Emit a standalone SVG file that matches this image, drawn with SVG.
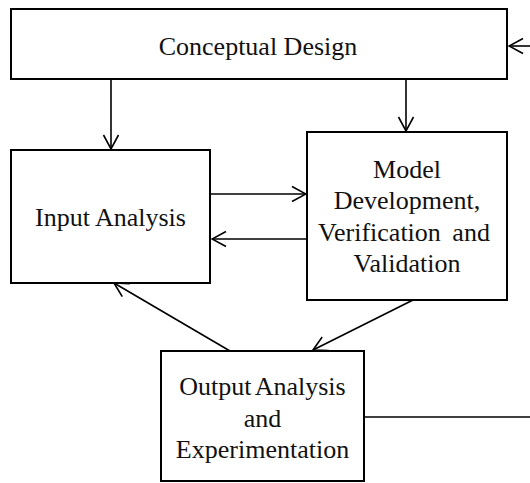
<svg xmlns="http://www.w3.org/2000/svg" width="530" height="483" viewBox="0 0 530 483">
  <style>
    .box { fill: #ffffff; stroke: #000000; stroke-width: 2; }
    .lbl { font-family: "Liberation Serif", "Times New Roman", serif; font-size: 26px; fill: #111111; text-anchor: middle; }
    .edge { fill: none; stroke: #000000; stroke-width: 1.6; }
  </style>
  <defs>
    <marker id="arrow" viewBox="0 0 16 18" refX="15" refY="9" markerWidth="16" markerHeight="18" markerUnits="userSpaceOnUse" orient="auto">
      <path d="M1,1.5 L15,9 L1,16.5" fill="none" stroke="#000000" stroke-width="1.6"/>
    </marker>
  </defs>
  <rect width="530" height="483" fill="#ffffff"/>

  <g id="connectors">
    <line class="edge" x1="111" y1="79" x2="111" y2="149" marker-end="url(#arrow)"/>
    <line class="edge" x1="406" y1="79" x2="406" y2="131" marker-end="url(#arrow)"/>
    <line class="edge" x1="211" y1="194" x2="306" y2="194" marker-end="url(#arrow)"/>
    <line class="edge" x1="307" y1="239" x2="212" y2="239" marker-end="url(#arrow)"/>
    <line class="edge" x1="230" y1="351" x2="114" y2="283" marker-end="url(#arrow)"/>
    <line class="edge" x1="413" y1="300" x2="313" y2="350" marker-end="url(#arrow)"/>
    <line class="edge" x1="364" y1="417" x2="530" y2="417"/>
    <line class="edge" x1="532" y1="46" x2="509" y2="46" marker-end="url(#arrow)"/>
  </g>

  <g id="conceptual-design">
    <rect class="box" x="11" y="9" width="496" height="70"/>
    <text class="lbl" x="258" y="55">Conceptual Design</text>
  </g>

  <g id="input-analysis">
    <rect class="box" x="11" y="150" width="199" height="133"/>
    <text class="lbl" x="110.5" y="226">Input Analysis</text>
  </g>

  <g id="model-development">
    <rect class="box" x="307" y="132" width="200" height="168"/>
    <text class="lbl" x="407" y="178">Model</text>
    <text class="lbl" x="407" y="209">Development,</text>
    <text class="lbl" x="404" y="241" word-spacing="5">Verification and</text>
    <text class="lbl" x="407" y="272">Validation</text>
  </g>

  <g id="output-analysis">
    <rect class="box" x="161" y="351" width="203" height="130"/>
    <text class="lbl" x="262.5" y="395" word-spacing="-2">Output Analysis</text>
    <text class="lbl" x="262.5" y="427">and</text>
    <text class="lbl" x="262.5" y="458">Experimentation</text>
  </g>
</svg>
